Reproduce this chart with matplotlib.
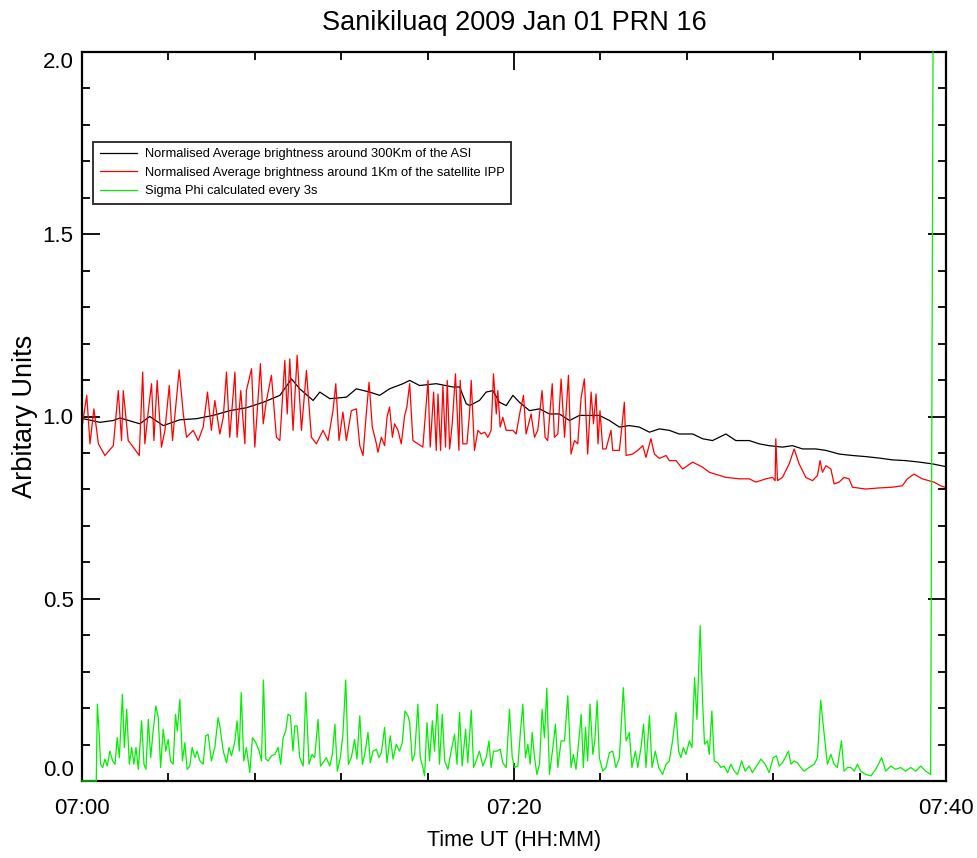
import matplotlib
matplotlib.use("Agg")
import matplotlib.pyplot as plt
from matplotlib.ticker import MultipleLocator, FormatStrFormatter

FONT = ["Liberation Sans", "DejaVu Sans"]
plt.rcParams["font.family"] = FONT

title = "Sanikiluaq 2009 Jan 01 PRN 16"
xlabel = "Time UT (HH:MM)"
ylabel = "Arbitary Units"
xtick_pos = [0, 20, 40]
xtick_labels = ["07:00", "07:20", "07:40"]
legend_labels = [
    "Normalised Average brightness around 300Km of the ASI",
    "Normalised Average brightness around 1Km of the satellite IPP",
    "Sigma Phi calculated every 3s",
]

# minutes after 07:00 and values
black_t = [0.06, 0.83, 1.45, 1.76, 2.68, 3.14, 3.76, 4.53, 5.30, 6.07, 6.84, 7.61, 8.39, 9.16, 9.70,
           10.08, 10.70, 11.01, 11.47, 12.24, 12.70, 13.32, 13.78, 14.24, 14.86, 15.17, 15.63, 16.40,
           17.17, 17.48, 17.79, 17.94, 18.40, 18.71, 19.02, 19.33, 19.64, 19.95, 20.25, 20.72, 21.18,
           21.64, 22.10, 22.57, 23.03, 23.49, 23.95, 24.42, 24.88, 25.34, 25.80, 26.27, 26.73, 27.19,
           27.65, 28.27, 28.73, 29.19, 29.81, 30.27, 30.89, 31.35, 31.81, 32.43, 32.89, 33.36, 33.97,
           34.44, 35.05, 35.67, 36.28, 36.90, 37.52, 38.13, 38.75, 39.37, 39.95]
black_v = [0.994, 0.984, 0.989, 0.996, 0.980, 1.000, 0.975, 0.991, 0.994, 1.003, 1.016, 1.024, 1.039,
           1.058, 1.103, 1.076, 1.044, 1.067, 1.049, 1.053, 1.076, 1.067, 1.058, 1.076, 1.090, 1.099,
           1.085, 1.090, 1.081, 1.081, 1.035, 1.030, 1.044, 1.067, 1.071, 1.039, 1.030, 1.058, 1.039,
           1.016, 1.021, 1.007, 1.007, 0.989, 1.003, 1.003, 1.003, 0.989, 0.971, 0.975, 0.971, 0.957,
           0.966, 0.962, 0.952, 0.952, 0.939, 0.934, 0.952, 0.934, 0.934, 0.925, 0.920, 0.916, 0.920,
           0.911, 0.911, 0.907, 0.897, 0.893, 0.890, 0.886, 0.881, 0.879, 0.875, 0.870, 0.863]

red_t = [0.00, 0.22, 0.37, 0.55, 0.76, 1.06, 1.45, 1.68, 1.83, 1.91, 2.14, 2.37, 2.65, 2.81, 2.91, 3.07,
         3.22, 3.33, 3.48, 3.68, 3.84, 4.04, 4.19, 4.38, 4.50, 4.69, 4.84, 5.15, 5.38, 5.61, 5.81, 5.99,
         6.15, 6.38, 6.54, 6.69, 6.84, 7.08, 7.18, 7.35, 7.54, 7.61, 7.85, 8.00, 8.26, 8.39, 8.54, 8.77,
         9.00, 9.16, 9.39, 9.50, 9.62, 9.77, 9.96, 10.16, 10.39, 10.62, 10.85, 11.16, 11.39, 11.62,
         11.75, 11.90, 12.08, 12.24, 12.47, 12.70, 12.86, 13.01, 13.16, 13.29, 13.44, 13.63, 13.70,
         13.86, 14.01, 14.12, 14.24, 14.37, 14.47, 14.63, 14.78, 14.94, 15.04, 15.17, 15.32, 15.55,
         15.78, 16.02, 16.12, 16.28, 16.40, 16.48, 16.60, 16.71, 16.83, 16.91, 17.02, 17.14, 17.29,
         17.45, 17.51, 17.63, 17.82, 17.94, 18.02, 18.17, 18.33, 18.48, 18.64, 18.79, 18.94, 19.05,
         19.18, 19.25, 19.36, 19.48, 19.64, 19.79, 19.95, 20.10, 20.29, 20.44, 20.56, 20.79, 20.95,
         21.10, 21.30, 21.44, 21.56, 21.77, 21.87, 22.03, 22.18, 22.34, 22.52, 22.64, 22.80, 22.95,
         23.11, 23.26, 23.41, 23.57, 23.68, 23.80, 23.89, 23.98, 24.11, 24.26, 24.49, 24.57, 24.88,
         25.11, 25.19, 25.49, 25.73, 25.96, 26.11, 26.34, 26.50, 26.73, 27.04, 27.19, 27.50, 27.81,
         28.27, 28.73, 29.04, 29.81, 30.43, 30.89, 31.20, 31.66, 31.97, 32.09, 32.12, 32.20, 32.43,
         32.74, 32.97, 33.20, 33.51, 33.82, 34.05, 34.17, 34.28, 34.44, 34.67, 34.82, 35.05, 35.28,
         35.51, 35.67, 36.28, 36.90, 37.52, 37.98, 38.21, 38.52, 38.90, 39.21, 39.44, 39.75, 39.95]
red_v = [0.971, 1.058, 0.925, 1.021, 0.925, 0.893, 0.920, 1.071, 0.934, 1.071, 0.934, 0.916, 0.893,
         1.122, 0.925, 1.016, 1.090, 0.934, 1.099, 0.916, 0.962, 1.085, 0.934, 1.053, 1.128, 1.007,
         0.943, 0.962, 0.934, 0.971, 1.067, 0.962, 1.044, 0.952, 0.998, 1.122, 0.943, 1.122, 0.943,
         1.071, 0.925, 1.071, 1.131, 0.916, 1.145, 0.980, 1.044, 1.113, 0.943, 0.934, 1.154, 1.007,
         1.158, 0.962, 1.168, 0.962, 1.126, 0.943, 0.925, 0.962, 0.934, 1.016, 1.090, 0.934, 1.012,
         0.934, 1.016, 1.021, 0.920, 0.893, 1.007, 1.094, 0.971, 0.925, 0.902, 0.943, 0.920, 0.998,
         1.026, 0.943, 0.980, 0.962, 0.925, 1.003, 1.026, 1.090, 0.934, 0.925, 0.916, 1.099, 0.916,
         1.067, 0.907, 1.062, 0.907, 1.085, 0.916, 1.099, 0.911, 0.980, 1.117, 0.907, 1.099, 0.925,
         0.925, 1.007, 1.099, 0.907, 0.962, 0.952, 0.957, 0.943, 0.962, 1.117, 1.007, 1.071, 0.971,
         0.998, 0.962, 0.962, 0.962, 0.952, 1.016, 1.058, 0.952, 1.007, 0.943, 0.962, 1.071, 0.943,
         0.934, 1.090, 0.943, 0.952, 1.103, 0.943, 1.113, 0.897, 0.934, 0.925, 1.053, 1.103, 0.897,
         1.067, 0.980, 1.062, 0.925, 1.016, 0.911, 0.911, 0.962, 0.907, 0.907, 1.039, 0.893, 0.897,
         0.907, 0.920, 0.888, 0.939, 0.897, 0.885, 0.893, 0.879, 0.879, 0.856, 0.875, 0.861, 0.847,
         0.833, 0.829, 0.829, 0.820, 0.829, 0.833, 0.824, 0.939, 0.824, 0.833, 0.870, 0.911, 0.870,
         0.833, 0.824, 0.838, 0.879, 0.847, 0.865, 0.856, 0.815, 0.820, 0.833, 0.829, 0.806, 0.801,
         0.804, 0.806, 0.810, 0.829, 0.842, 0.829, 0.824, 0.820, 0.810, 0.806]

green_t = [0.00, 0.66, 0.71, 0.80, 0.86, 0.96, 1.06, 1.17, 1.29, 1.42, 1.53, 1.63, 1.73, 1.87, 1.96,
           2.07, 2.19, 2.30, 2.40, 2.50, 2.61, 2.76, 2.87, 2.96, 3.07, 3.18, 3.30, 3.42, 3.53, 3.64,
           3.76, 3.88, 3.99, 4.10, 4.22, 4.33, 4.41, 4.53, 4.65, 4.76, 4.87, 4.99, 5.10, 5.23, 5.33,
           5.46, 5.61, 5.73, 5.84, 5.99, 6.15, 6.30, 6.38, 6.54, 6.69, 6.81, 6.92, 7.08, 7.18, 7.28,
           7.37, 7.49, 7.61, 7.77, 7.89, 8.05, 8.20, 8.31, 8.40, 8.51, 8.62, 8.77, 8.93, 9.08, 9.20,
           9.31, 9.43, 9.54, 9.65, 9.77, 9.85, 9.96, 10.08, 10.24, 10.36, 10.51, 10.65, 10.77, 10.93,
           11.04, 11.16, 11.31, 11.47, 11.59, 11.71, 11.82, 11.96, 12.08, 12.21, 12.33, 12.47, 12.62,
           12.73, 12.86, 12.98, 13.09, 13.24, 13.35, 13.47, 13.63, 13.75, 13.86, 14.01, 14.12, 14.27,
           14.40, 14.55, 14.70, 14.83, 14.95, 15.09, 15.17, 15.29, 15.40, 15.55, 15.66, 15.78, 15.86,
           15.97, 16.09, 16.22, 16.32, 16.45, 16.55, 16.68, 16.79, 16.94, 17.09, 17.25, 17.36, 17.48,
           17.60, 17.76, 17.86, 18.02, 18.13, 18.25, 18.40, 18.56, 18.71, 18.84, 18.94, 19.05, 19.21,
           19.36, 19.48, 19.64, 19.79, 19.92, 20.02, 20.18, 20.30, 20.41, 20.53, 20.64, 20.75, 20.84,
           20.95, 21.06, 21.18, 21.30, 21.41, 21.52, 21.64, 21.80, 21.92, 22.03, 22.18, 22.34, 22.49,
           22.64, 22.75, 22.87, 23.00, 23.11, 23.21, 23.31, 23.41, 23.52, 23.65, 23.74, 23.85, 23.95,
           24.11, 24.26, 24.42, 24.57, 24.72, 24.88, 25.06, 25.19, 25.34, 25.46, 25.62, 25.73, 25.88,
           26.00, 26.11, 26.27, 26.39, 26.54, 26.70, 26.88, 27.04, 27.19, 27.34, 27.50, 27.62, 27.73,
           27.84, 27.96, 28.12, 28.24, 28.36, 28.47, 28.62, 28.73, 28.82, 28.96, 29.04, 29.16, 29.27,
           29.43, 29.58, 29.73, 29.89, 30.04, 30.20, 30.35, 30.54, 30.70, 30.89, 31.04, 31.23, 31.43,
           31.63, 31.81, 32.00, 32.15, 32.28, 32.43, 32.55, 32.71, 32.82, 32.97, 33.12, 33.28, 33.43,
           33.66, 33.90, 34.05, 34.20, 34.36, 34.51, 34.67, 34.82, 34.97, 35.16, 35.28, 35.44, 35.59,
           35.75, 35.90, 36.05, 36.28, 36.52, 36.75, 37.02, 37.21, 37.44, 37.67, 37.90, 38.13, 38.37,
           38.60, 38.83, 39.06, 39.29, 39.40]
green_v = [0.000, 0.000, 0.211, 0.124, 0.046, 0.037, 0.060, 0.041, 0.082, 0.055, 0.046, 0.119, 0.064,
           0.238, 0.092, 0.197, 0.046, 0.092, 0.046, 0.092, 0.032, 0.165, 0.046, 0.032, 0.169, 0.064,
           0.142, 0.206, 0.174, 0.037, 0.142, 0.082, 0.114, 0.055, 0.046, 0.183, 0.137, 0.224, 0.055,
           0.105, 0.032, 0.041, 0.092, 0.064, 0.082, 0.055, 0.046, 0.124, 0.128, 0.055, 0.092, 0.174,
           0.151, 0.082, 0.050, 0.092, 0.069, 0.110, 0.165, 0.082, 0.243, 0.055, 0.092, 0.023, 0.119,
           0.105, 0.082, 0.055, 0.277, 0.060, 0.055, 0.069, 0.073, 0.092, 0.046, 0.119, 0.137, 0.183,
           0.179, 0.082, 0.151, 0.151, 0.064, 0.041, 0.243, 0.046, 0.073, 0.064, 0.169, 0.041, 0.050,
           0.064, 0.041, 0.073, 0.156, 0.027, 0.064, 0.128, 0.277, 0.046, 0.064, 0.114, 0.060, 0.179,
           0.046, 0.073, 0.133, 0.050, 0.082, 0.087, 0.064, 0.078, 0.147, 0.050, 0.124, 0.060, 0.101,
           0.082, 0.105, 0.192, 0.179, 0.160, 0.055, 0.073, 0.211, 0.064, 0.037, 0.014, 0.160, 0.055,
           0.165, 0.082, 0.211, 0.046, 0.183, 0.055, 0.032, 0.082, 0.128, 0.046, 0.188, 0.041, 0.142,
           0.050, 0.194, 0.037, 0.055, 0.082, 0.041, 0.064, 0.110, 0.037, 0.082, 0.082, 0.087, 0.050,
           0.037, 0.197, 0.064, 0.037, 0.041, 0.137, 0.211, 0.064, 0.101, 0.046, 0.133, 0.064, 0.018,
           0.046, 0.197, 0.119, 0.255, 0.018, 0.092, 0.156, 0.037, 0.110, 0.110, 0.234, 0.037, 0.073,
           0.032, 0.110, 0.183, 0.037, 0.147, 0.055, 0.211, 0.073, 0.110, 0.220, 0.064, 0.027, 0.037,
           0.078, 0.082, 0.037, 0.064, 0.256, 0.110, 0.133, 0.037, 0.082, 0.037, 0.092, 0.156, 0.037,
           0.179, 0.037, 0.082, 0.037, 0.018, 0.046, 0.055, 0.110, 0.188, 0.082, 0.064, 0.092, 0.073,
           0.110, 0.092, 0.284, 0.169, 0.426, 0.220, 0.101, 0.110, 0.073, 0.192, 0.055, 0.050, 0.037,
           0.041, 0.023, 0.046, 0.027, 0.018, 0.055, 0.027, 0.041, 0.023, 0.041, 0.060, 0.046, 0.023,
           0.064, 0.069, 0.041, 0.050, 0.064, 0.082, 0.046, 0.055, 0.050, 0.037, 0.027, 0.037, 0.046,
           0.064, 0.222, 0.128, 0.046, 0.073, 0.046, 0.037, 0.110, 0.027, 0.037, 0.037, 0.027, 0.046,
           0.027, 0.018, 0.014, 0.032, 0.064, 0.027, 0.041, 0.032, 0.037, 0.027, 0.037, 0.027, 0.041,
           0.027, 0.018, 2.000]

fig = plt.figure(figsize=(9.77, 8.58), dpi=100)
ax = fig.add_axes([82 / 977, 1 - 781 / 858, (946 - 82) / 977, (781 - 52) / 858])

ax.plot(black_t, black_v, color="black", lw=0.9, label=legend_labels[0])
ax.plot(red_t, red_v, color="#ff0000", lw=0.9, label=legend_labels[1])
ax.plot(green_t, green_v, color="#00f000", lw=0.9, label=legend_labels[2],
        clip_on=False, zorder=3)

ax.set_xlim(0, 40)
ax.set_ylim(0, 2.0)
ax.set_xticks(xtick_pos)
ax.set_xticklabels(xtick_labels)
ax.xaxis.set_minor_locator(MultipleLocator(4))
ax.set_yticks([0.0, 0.5, 1.0, 1.5, 2.0])
ax.yaxis.set_minor_locator(MultipleLocator(0.1))
ax.yaxis.set_major_formatter(FormatStrFormatter("%.1f"))
ax.tick_params(which="both", direction="in", top=True, right=True, width=1.3, colors="black")
ax.tick_params(which="major", length=13, labelsize=16)
ax.tick_params(axis="x", which="major", pad=12)
ax.tick_params(axis="y", which="major", pad=6)
ax.tick_params(which="minor", length=6)
for s in ax.spines.values():
    s.set_linewidth(1.6)

ax.set_title(title, fontsize=19.5, pad=16)
ax.set_xlabel(xlabel, fontsize=15.5, labelpad=8)
ax.set_ylabel(ylabel, fontsize=19.5, labelpad=3.5)

leg = ax.legend(loc="upper left", bbox_to_anchor=(0.013, 0.877), borderaxespad=0,
                fontsize=9.3, handlelength=2.9, handletextpad=0.6, labelspacing=0.5,
                frameon=True, fancybox=False, borderpad=0.5)
leg.get_frame().set_edgecolor("black")
leg.get_frame().set_linewidth(1.4)

fig.canvas.draw()
yticks = ax.yaxis.get_major_ticks()
yticks[0].label1.set_verticalalignment("bottom")
yticks[-1].label1.set_verticalalignment("top")

fig.savefig("out.png", dpi=100)
